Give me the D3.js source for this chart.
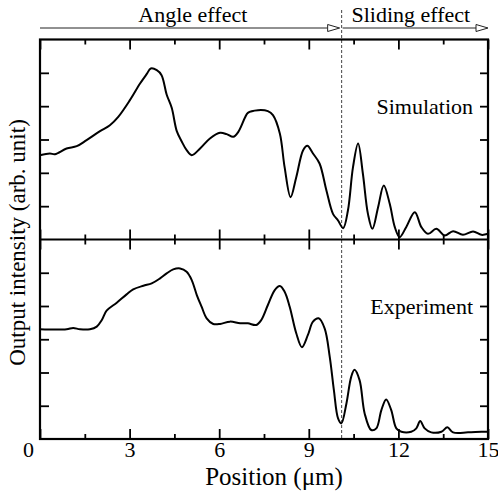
<!DOCTYPE html>
<html>
<head>
<meta charset="utf-8">
<script src="https://cdn.jsdelivr.net/npm/d3@7"></script>
<style>
  html, body { margin: 0; padding: 0; background: #fff; }
  svg { display: block; }
  svg text { font-family: "Liberation Serif", "Times New Roman", serif; fill: #000; }
</style>
</head>
<body>
<svg width="498" height="491"></svg>
<script>
// position (um) and intensity (arb. unit)
var simX = [0, 0.33, 0.50, 0.89, 1.23, 1.56, 2.01, 2.34, 2.62, 3.01, 3.35, 3.57, 3.71, 3.91, 4.07, 4.24, 4.41, 4.58, 4.74, 4.91,
            5.08, 5.36, 5.69, 6.03, 6.25, 6.47, 6.64, 6.86, 6.96, 7.30, 7.63, 7.80, 8.03, 8.19, 8.39, 8.58, 8.81, 8.95, 9.14, 9.36,
            9.59, 9.81, 9.98, 10.15, 10.31, 10.48, 10.65, 10.81, 10.98, 11.13, 11.32, 11.51, 11.71, 11.88, 12.04, 12.26, 12.55, 12.77, 12.99, 13.27,
            13.55, 13.83, 14.16, 14.50, 14.78, 15.00];
var simY = [2.53, 2.58, 2.56, 2.73, 2.80, 2.98, 3.25, 3.43, 3.68, 4.18, 4.68, 4.96, 5.13, 5.08, 4.93, 4.35, 3.95, 3.25, 2.95, 2.68,
            2.53, 2.73, 3.03, 3.20, 3.16, 3.08, 3.23, 3.65, 3.80, 3.88, 3.85, 3.73, 3.18, 2.17, 1.27, 1.87, 2.68, 2.81, 2.58, 2.28,
            1.47, 0.77, 0.57, 0.34, 0.87, 2.17, 2.88, 1.98, 0.77, 0.32, 0.97, 1.62, 1.07, 0.37, 0.07, 0.37, 0.82, 0.37, 0.17, 0.32,
            0.12, 0.25, 0.14, 0.24, 0.14, 0.17];

var expX = [0, 0.89, 1.11, 1.34, 1.67, 1.90, 2.07, 2.23, 2.57, 2.90, 3.12, 3.46, 3.74, 4.02, 4.24, 4.46, 4.69, 4.91, 5.08, 5.25,
            5.41, 5.58, 5.80, 6.03, 6.36, 6.70, 6.96, 7.24, 7.41, 7.63, 7.86, 8.03, 8.19, 8.36, 8.58, 8.77, 8.97, 9.14, 9.33, 9.53,
            9.70, 9.84, 9.98, 10.09, 10.26, 10.42, 10.53, 10.70, 10.87, 11.09, 11.26, 11.43, 11.59, 11.76, 11.93, 12.10, 12.43, 12.60, 12.73, 12.88,
            13.10, 13.44, 13.64, 13.83, 14.33, 14.78, 15.00];
var expY = [3.30, 3.30, 3.34, 3.30, 3.30, 3.38, 3.58, 3.86, 4.10, 4.35, 4.50, 4.61, 4.68, 4.83, 4.98, 5.10, 5.13, 5.03, 4.78, 4.33,
            3.98, 3.63, 3.46, 3.46, 3.53, 3.48, 3.48, 3.43, 3.58, 4.03, 4.48, 4.60, 4.43, 3.98, 3.18, 2.76, 3.13, 3.53, 3.63, 3.33,
            2.48, 1.47, 0.62, 0.47, 1.07, 1.87, 2.08, 1.77, 0.77, 0.27, 0.32, 0.87, 1.19, 0.87, 0.32, 0.22, 0.22, 0.32, 0.54, 0.32,
            0.20, 0.22, 0.35, 0.20, 0.20, 0.22, 0.22];

var majorTicks = [0, 3, 6, 9, 12, 15];
var minorTicks = [1.5, 4.5, 7.5, 10.5, 13.5];
var yTicks = [1, 2, 3, 4, 5];
var regionNames = ["Angle effect", "Sliding effect"];
var regionBounds = [0, 10.1, 15];
var panelNames = ["Simulation", "Experiment"];
var panelLabelAt = [4, 4];

var svg = d3.select("svg"),
    plotL = 40, plotR = 488, plotT = 39.5, plotM = 239.5, plotB = 439;

var x = d3.scaleLinear().domain([0, 15]).range([plotL, plotR]);
var yTop = d3.scaleLinear().domain([0, 6]).range([plotM, plotT]);
var yBot = d3.scaleLinear().domain([0, 6]).range([plotB, plotM]);

var line = function(ys) {
    return d3.line()
        .x(function(d) { return x(d[0]); })
        .y(function(d) { return ys(d[1]); })
        .curve(d3.curveCatmullRom.alpha(0.5));
};

var sim = simX.map(function(v, i) { return [v, simY[i]]; });
var exp = expX.map(function(v, i) { return [v, expY[i]]; });

// region dashed divider
svg.append("line")
    .attr("x1", x(regionBounds[1])).attr("x2", x(regionBounds[1]))
    .attr("y1", 10).attr("y2", plotB)
    .attr("stroke", "#444").attr("stroke-width", 1)
    .attr("stroke-dasharray", "3,2");

// curves
svg.append("path").datum(sim)
    .attr("fill", "none").attr("stroke", "#000").attr("stroke-width", 2)
    .attr("stroke-linejoin", "round")
    .attr("d", line(yTop));
svg.append("path").datum(exp)
    .attr("fill", "none").attr("stroke", "#000").attr("stroke-width", 2)
    .attr("stroke-linejoin", "round")
    .attr("d", line(yBot));

// axes
function styleAxis(g) {
    g.attr("font-family", null).attr("font-size", null);
    g.select(".domain").remove();
    g.selectAll(".tick line").attr("stroke", "#000").attr("stroke-width", 1.8);
    g.selectAll("text").attr("font-size", 22);
}

svg.append("g").attr("transform", "translate(0," + plotB + ")")
    .call(d3.axisBottom(x).tickValues(majorTicks).tickSize(-10).tickPadding(2).tickFormat(d3.format("d")))
    .call(styleAxis)
    .call(function(g) {
        g.selectAll(".tick text").filter(function(d) { return d === 0; }).attr("dx", -12);
    });
svg.append("g").attr("transform", "translate(0," + plotB + ")")
    .call(d3.axisBottom(x).tickValues(minorTicks).tickSize(-5).tickFormat(""))
    .call(styleAxis);

svg.append("g").attr("transform", "translate(0," + plotT + ")")
    .call(d3.axisTop(x).tickValues(majorTicks).tickSize(-10).tickFormat(""))
    .call(styleAxis);
svg.append("g").attr("transform", "translate(0," + plotT + ")")
    .call(d3.axisTop(x).tickValues(minorTicks).tickSize(-5).tickFormat(""))
    .call(styleAxis);

[d3.axisTop, d3.axisBottom].forEach(function(ax) {
    svg.append("g").attr("transform", "translate(0," + plotM + ")")
        .call(ax(x).tickValues(majorTicks).tickSize(10).tickFormat(""))
        .call(styleAxis);
    svg.append("g").attr("transform", "translate(0," + plotM + ")")
        .call(ax(x).tickValues(minorTicks).tickSize(5).tickFormat(""))
        .call(styleAxis);
});

[yTop, yBot].forEach(function(ys) {
    svg.append("g").attr("transform", "translate(" + plotL + ",0)")
        .call(d3.axisLeft(ys).tickValues(yTicks).tickSize(-9).tickFormat(""))
        .call(styleAxis);
    svg.append("g").attr("transform", "translate(" + plotR + ",0)")
        .call(d3.axisRight(ys).tickValues(yTicks).tickSize(-8).tickFormat(""))
        .call(styleAxis);
});

// frame
svg.append("rect")
    .attr("x", plotL).attr("y", plotT)
    .attr("width", plotR - plotL).attr("height", plotB - plotT)
    .attr("fill", "none").attr("stroke", "#000").attr("stroke-width", 2.2);
svg.append("line")
    .attr("x1", plotL).attr("x2", plotR).attr("y1", plotM).attr("y2", plotM)
    .attr("stroke", "#000").attr("stroke-width", 2.2);

// panel labels
[yTop, yBot].forEach(function(ys, i) {
    svg.append("text")
        .attr("x", plotR - 15).attr("y", ys(panelLabelAt[i]) + 7.5)
        .attr("text-anchor", "end").attr("font-size", 22)
        .text(panelNames[i]);
});

// region arrows
var arrowY = 28;
regionNames.forEach(function(name, i) {
    var x0 = x(regionBounds[i]) + (i ? 1 : 0),
        x1 = x(regionBounds[i + 1]) - (i ? 0 : 2);
    svg.append("line")
        .attr("x1", x0).attr("x2", x1 - 12).attr("y1", arrowY).attr("y2", arrowY)
        .attr("stroke", "#222").attr("stroke-width", 1);
    svg.append("path")
        .attr("d", "M" + (x1 - 12) + "," + (arrowY - 3.5) + "L" + x1 + "," + arrowY + "L" + (x1 - 12) + "," + (arrowY + 3.5) + "Z")
        .attr("fill", "#fff").attr("stroke", "#222").attr("stroke-width", 1);
    svg.append("text")
        .attr("x", (x(regionBounds[i]) + x(regionBounds[i + 1])) / 2 + (i ? -4 : 2))
        .attr("y", 22)
        .attr("text-anchor", "middle").attr("font-size", 22)
        .text(name);
});

// axis titles
svg.append("text")
    .attr("transform", "translate(25," + (plotM + 3) + ") rotate(-90)")
    .attr("text-anchor", "middle").attr("font-size", 23)
    .text("Output intensity (arb. unit)");
svg.append("text")
    .attr("x", 274).attr("y", 485)
    .attr("text-anchor", "middle").attr("font-size", 25)
    .text("Position (\u03bcm)");
</script>
</body>
</html>
